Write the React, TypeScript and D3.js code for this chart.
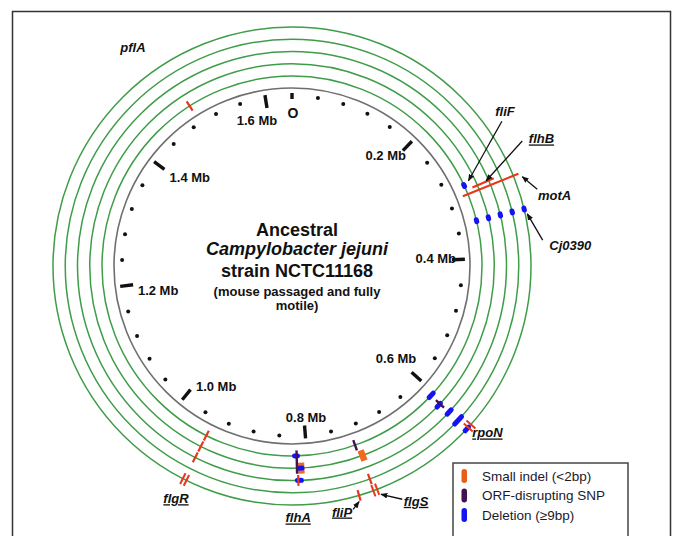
import React from "react";
import * as d3 from "d3";

// ---------- data ----------
const GENOME_MB = 1.641;
const RING_IDS = [1, 2, 3, 4, 5];
const majorTickMb = [0, 0.2, 0.4, 0.6, 0.8, 1.0, 1.2, 1.4, 1.6];
const majorTickLabels = ["O", "0.2 Mb", "0.4 Mb", "0.6 Mb", "0.8 Mb", "1.0 Mb", "1.2 Mb", "1.4 Mb", "1.6 Mb"];
const minorTickMb = d3.range(1, 40).filter((k) => k % 5 !== 0).map((k) => k * 0.04);

// deletions (>=9bp): [gene, position Mb, ring]
const deletions: [string, number, number][] = [
  ["fliF", 0.296, 1],
  ["Cj0390", 0.3474, 1], ["Cj0390", 0.3474, 2], ["Cj0390", 0.3474, 3], ["Cj0390", 0.3474, 4], ["Cj0390", 0.3474, 5],
  ["rpoN", 0.6058, 1], ["rpoN", 0.6085, 2], ["rpoN", 0.6058, 3], ["rpoN", 0.6058, 4], ["rpoN", 0.6062, 5],
  ["flhA", 0.815, 1], ["flhA", 0.8095, 2], ["flhA", 0.8115, 3],
];
// ORF-disrupting SNPs: [gene, position Mb, ring from, ring to]
const snps: [string, number, number, number][] = [
  ["rpoN", 0.6062, 2, 2],
  ["flhA", 0.8141, 1, 2],
  ["flgS", 0.7321, 1, 1],
];
// small indels drawn as radial strokes: [gene, position Mb, ring from, ring to]
const indelLines: [string, number, number, number][] = [
  ["pflA", 1.4924, 1, 1],
  ["motA", 0.3091, 1, 5],
  ["flhB", 0.3031, 2, 3],
  ["flgR", 0.9427, 1, 1], ["flgR", 0.9427, 2, 2], ["flgR", 0.9427, 3, 3],
  ["flgS", 0.729, 4, 4],
  ["fliP", 0.7462, 5, 5],
  ["flhA", 0.8128, 3, 3],
];
// small indels shown as double strokes: [gene, position Mb, ring]
const indelDoubles: [string, number, number][] = [
  ["rpoN", 0.6017, 5],
  ["flgS", 0.7276, 5],
  ["flgR", 0.9422, 5],
];
// small indels shown as blocks: [gene, position Mb, ring]
const indelBlocks: [string, number, number][] = [
  ["flhA", 0.8083, 2],
  ["flgS", 0.7271, 2],
];

const geneLabels = ["pflA", "fliF", "flhB", "motA", "Cj0390", "rpoN", "flgS", "fliP", "flhA", "flgR"];
const geneUnderlined = [false, false, true, false, false, true, true, true, true, true];

const legendLabels = ["Small indel (<2bp)", "ORF-disrupting SNP", "Deletion (\u22659bp)"];

const titleLines = ["Ancestral", "Campylobacter jejuni", "strain NCTC11168", "(mouse passaged and fully", "motile)"];

// ---------- layout / style ----------
const W = 673, H = 536;
const CX = 292, CY = 266;
const RING_R0 = 190, RING_STEP = 12.25;
const GRAY_R = 178;
const DOT_R = 170;
const FONT = "'Liberation Sans', Arial, Helvetica, sans-serif";

const C_GREEN = "#3f9c48";
const C_GRAY = "#6f6f6f";
const C_RED = "#e8371c";
const C_ORANGE = "#ef6a1e";
const C_PURPLE = "#43114d";
const C_BLUE = "#1414f2";
const legendColors = ["#e85d1c", "#43114d", "#1414f2"];

const deletionLen = [7, 7, 7, 7, 7, 7, 11, 10, 11, 15, 10, 8, 8, 9];

// tick label polar placement [angle offset deg, radius]
const tickLabelPlace: [number, number][] = [
  [0.4, 153], [-3.6, 145], [-0.9, 144], [-0.1, 139], [-0.8, 152], [-7.1, 142], [-3.5, 136], [3.7, 135], [-4.5, 150],
];
// gene label polar placement [angle deg, radius]
const geneLabelPlace: [number, number][] = [
  [323.9, 270], [54.1, 263], [63, 280], [74.9, 272], [85.7, 279], [130.5, 257], [152.2, 266], [168.5, 251], [178.6, 252], [206.5, 260],
];
// arrows [gene, fromAngle, fromR, toAngle, toR]
const arrowPlace: [string, number, number, number, number][] = [
  ["fliF", 55.4, 255, 64.2, 196],
  ["flhB", 61.5, 262, 66.3, 212],
  ["motA", 72.6, 257, 68.8, 247],
  ["Cj0390", 84.1, 252, 77.5, 241],
  ["flgS", 154.7, 258, 158.7, 245],
  ["fliP", 165.9, 251, 164.1, 245],
];
const titleStyle: [number, number, boolean][] = [
  [236, 18, false], [255, 18, true], [277, 18, false], [296, 13, false], [310, 13, false],
];

const angle = d3.scaleLinear().domain([0, GENOME_MB]).range([0, 360]);
const ringR = (i: number) => RING_R0 + (i - 1) * RING_STEP;
const pt = (deg: number, r: number): [number, number] => {
  const a = (deg * Math.PI) / 180;
  return [CX + r * Math.sin(a), CY - r * Math.cos(a)];
};

export default function App() {
  const radial = (deg: number, r0: number, r1: number) => {
    const [x1, y1] = pt(deg, r0);
    const [x2, y2] = pt(deg, r1);
    return { x1, y1, x2, y2 };
  };

  return (
    <svg width={W} height={H} viewBox={`0 0 ${W} ${H}`} style={{ position: "absolute", left: 0, top: 0, display: "block", background: "#fff" }}>
      <defs>
        <marker id="ah" viewBox="0 0 10 10" refX="9" refY="5" markerWidth="7" markerHeight="7" markerUnits="userSpaceOnUse" orient="auto">
          <path d="M0,1 L10,5 L0,9 z" fill="#111" />
        </marker>
      </defs>
      <rect x={0} y={0} width={W} height={H} fill="#fff" />
      {/* frame */}
      <rect x={12.5} y={11.5} width={658} height={620} fill="none" stroke="#333" strokeWidth={1.5} />

      {/* green rings */}
      {RING_IDS.map((i) => (
        <circle key={i} cx={CX} cy={CY} r={ringR(i)} fill="none" stroke={C_GREEN} strokeWidth={1.5} />
      ))}
      {/* gray genome circle */}
      <circle cx={CX} cy={CY} r={GRAY_R} fill="none" stroke={C_GRAY} strokeWidth={1.6} />

      {/* minor ticks */}
      {minorTickMb.map((m, i) => {
        const [x, y] = pt(angle(m), DOT_R);
        return <circle key={i} cx={x} cy={y} r={2} fill="#111" />;
      })}
      {/* major ticks */}
      {majorTickMb.map((m, i) => {
        const r0 = i === 0 ? 167 : 160;
        return <line key={i} {...radial(angle(m), r0, 173)} stroke="#111" strokeWidth={3.4} />;
      })}
      {majorTickMb.map((m, i) => {
        const [da, r] = tickLabelPlace[i];
        const [x, y] = pt(angle(m) + da, r);
        return (
          <text key={i} x={x} y={y} dy="0.35em" textAnchor="middle" fontFamily={FONT} fontWeight="bold" fontSize={i === 0 ? 14 : 13} fill="#111">
            {majorTickLabels[i]}
          </text>
        );
      })}

      {/* indel blocks */}
      {indelBlocks.map(([g, m, ring], i) => {
        const d = angle(m);
        const [x, y] = pt(d, ringR(ring));
        return <rect key={"b" + i} x={-3} y={-5.5} width={6.5} height={11} fill={C_ORANGE} transform={`translate(${x},${y}) rotate(${d})`} />;
      })}
      {/* deletions */}
      {deletions.map(([g, m, ring], i) => {
        const d = angle(m);
        const [x, y] = pt(d, ringR(ring));
        const len = deletionLen[i];
        return <rect key={"d" + i} x={-len / 2} y={-2.5} width={len} height={5} rx={2.5} fill={C_BLUE} transform={`translate(${x},${y}) rotate(${d})`} />;
      })}
      {/* indel lines */}
      {indelLines.map(([g, m, r0, r1], i) => (
        <line key={"l" + i} {...radial(angle(m), ringR(r0) - 5.5, ringR(r1) + 5.5)} stroke={C_RED} strokeWidth={2.2} />
      ))}
      {/* indel doubles */}
      {indelDoubles.map(([g, m, ring], i) => {
        const d = angle(m);
        const [x, y] = pt(d, ringR(ring));
        return (
          <g key={"dd" + i} transform={`translate(${x},${y}) rotate(${d})`}>
            <line x1={-2} y1={-6} x2={-2} y2={6} stroke={C_RED} strokeWidth={2} />
            <line x1={2} y1={-6} x2={2} y2={6} stroke={C_RED} strokeWidth={2} />
          </g>
        );
      })}
      {/* SNPs */}
      {snps.map(([g, m, r0, r1], i) => (
        <line key={"s" + i} {...radial(angle(m), ringR(r0) - 5.5, ringR(r1) + 5.5)} stroke={C_PURPLE} strokeWidth={2.4} />
      ))}

      {/* arrows */}
      {arrowPlace.map(([g, a0, r0, a1, r1], i) => {
        const [x1, y1] = pt(a0, r0);
        const [x2, y2] = pt(a1, r1);
        return <line key={"a" + i} x1={x1} y1={y1} x2={x2} y2={y2} stroke="#111" strokeWidth={1.3} markerEnd="url(#ah)" />;
      })}

      {/* gene labels */}
      {geneLabels.map((g, i) => {
        const [a, r] = geneLabelPlace[i];
        const [x, y] = pt(a, r);
        return (
          <text key={"g" + i} x={x} y={y} dy="0.35em" textAnchor="middle" fontFamily={FONT} fontWeight="bold" fontStyle="italic" fontSize={13} fill="#111" textDecoration={geneUnderlined[i] ? "underline" : undefined}>
            {g}
          </text>
        );
      })}

      {/* center title */}
      {titleLines.map((t, i) => {
        const [y, fs, it] = titleStyle[i];
        return (
          <text key={"t" + i} x={297} y={y} textAnchor="middle" fontFamily={FONT} fontWeight="bold" fontStyle={it ? "italic" : "normal"} fontSize={fs} fill="#111">
            {t}
          </text>
        );
      })}

      {/* legend */}
      <rect x={453} y={463} width={175} height={120} fill="#fff" stroke="#444" strokeWidth={1.5} />
      {legendLabels.map((l, i) => {
        const yc = 476 + i * 19.5;
        return (
          <g key={"lg" + i}>
            <rect x={461.5} y={yc - 7} width={5.5} height={14} rx={2.75} fill={legendColors[i]} />
            <text x={482} y={yc} dy="0.36em" fontFamily={FONT} fontSize={13.5} fill="#1a1a2a">
              {l}
            </text>
          </g>
        );
      })}
    </svg>
  );
}
